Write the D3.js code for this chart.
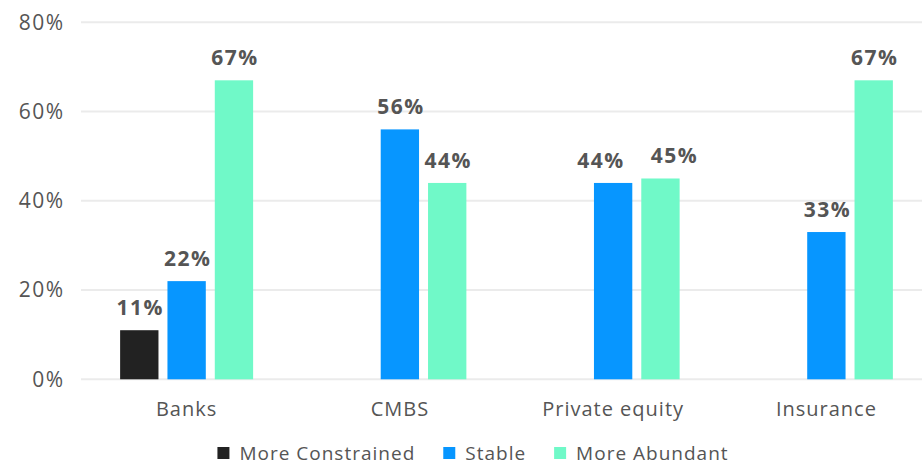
<!DOCTYPE html>
<html>
<head>
<meta charset="utf-8">
<script src="https://cdn.jsdelivr.net/npm/d3@7"></script>
<style>
  body { margin: 0; background: #fff; }
  svg { display: block; font-family: "Open Sans", "Noto Sans", sans-serif; }
</style>
</head>
<body>
<svg id="chart" width="922" height="465"></svg>
<script>
const categories = ["Banks", "CMBS", "Private equity", "Insurance"];
const seriesNames = ["More Constrained", "Stable", "More Abundant"];
const moreConstrained = [11, null, null, null];
const stable = [22, 56, 44, 33];
const moreAbundant = [67, 44, 45, 67];
const yTicks = [0, 20, 40, 60, 80];
const colors = ["#222222", "#0796ff", "#70f9c8"];

const values = [moreConstrained, stable, moreAbundant];

const svg = d3.select("#chart"),
  margin = {top: 22, right: 0, bottom: 86, left: 81},
  height = +svg.attr("height") - margin.top - margin.bottom;

const x0 = d3.scaleBand()
  .domain(categories)
  .range([80, 933]);

const x1 = d3.scaleBand()
  .domain(seriesNames)
  .range([-66.5, 66.5])
  .paddingInner(0.19);

const y = d3.scaleLinear()
  .domain([0, 80])
  .range([margin.top + height + 0.3, margin.top + 0.3]);

// gridlines
svg.append("g")
  .selectAll("line")
  .data(yTicks)
  .join("line")
  .attr("x1", margin.left)
  .attr("x2", 922)
  .attr("y1", d => y(d))
  .attr("y2", d => y(d))
  .attr("stroke", "#ebebeb")
  .attr("stroke-width", 2);

// y axis
const yAxis = svg.append("g")
  .attr("transform", "translate(64.5,0)")
  .call(d3.axisLeft(y).tickValues(yTicks).tickFormat(d => d + "%").tickSize(0).tickPadding(0));
yAxis.select(".domain").remove();
yAxis.selectAll("text")
  .attr("fill", "#555")
  .attr("font-size", 21)
  .attr("letter-spacing", 1.5)
  .attr("font-family", "'Open Sans', sans-serif");

// x axis labels
const xAxis = svg.append("g")
  .attr("transform", "translate(0,416)")
  .call(d3.axisBottom(x0).tickSize(0).tickPadding(0));
xAxis.select(".domain").remove();
xAxis.selectAll("text")
  .attr("dy", 0)
  .attr("y", 0)
  .attr("fill", "#555")
  .attr("font-size", 20)
  .attr("letter-spacing", 1)
  .attr("font-family", "'Open Sans', sans-serif");

const rows = [];
categories.forEach((c, i) => {
  seriesNames.forEach((s, j) => {
    const v = values[j][i];
    if (v != null) rows.push({cat: c, series: s, value: v, color: colors[j]});
  });
});

const bars = svg.append("g");
bars.selectAll("rect")
  .data(rows)
  .join("rect")
  .attr("x", d => x0(d.cat) + x0.bandwidth() / 2 + x1(d.series))
  .attr("y", d => y(d.value))
  .attr("width", x1.bandwidth())
  .attr("height", d => y(0) - y(d.value))
  .attr("fill", d => d.color);

const labels = bars.selectAll("text")
  .data(rows)
  .join("text")
  .attr("x", d => x0(d.cat) + x0.bandwidth() / 2 + x1(d.series) + x1.bandwidth() / 2 + 1)
  .attr("y", d => y(d.value) - 15)
  .attr("text-anchor", "middle")
  .attr("fill", "#555")
  .attr("font-size", 21)
  .attr("letter-spacing", 1.5)
  .attr("font-weight", "bold")
  .text(d => d.value + "%");

// push apart neighbouring labels that would collide
const nodes = labels.nodes();
for (let i = 1; i < nodes.length; i++) {
  const a = nodes[i - 1], b = nodes[i];
  const da = d3.select(a).datum(), db = d3.select(b).datum();
  if (da.cat !== db.cat) continue;
  const ba = a.getBBox(), bb = b.getBBox();
  const vOverlap = ba.y < bb.y + bb.height && bb.y < ba.y + ba.height;
  const minDist = (ba.width + bb.width) / 2 + 26;
  const ax = +a.getAttribute("x"), bx = +b.getAttribute("x");
  if (vOverlap && bx - ax < minDist) {
    const shift = (minDist - (bx - ax)) / 2;
    a.setAttribute("x", ax - shift);
    b.setAttribute("x", bx + shift);
  }
}

// legend
const legend = svg.append("g").attr("transform", "translate(0,452)");
const items = legend.selectAll("g")
  .data(seriesNames)
  .join("g");
items.append("rect")
  .attr("width", 12)
  .attr("height", 12)
  .attr("y", -5)
  .attr("fill", (d, i) => colors[i]);
items.append("text")
  .attr("x", 22)
  .attr("dy", "0.4em")
  .attr("fill", "#555")
  .attr("font-size", 19)
  .attr("letter-spacing", 1)
  .text(d => d);

let pos = 0;
const offsets = [];
items.each(function() {
  offsets.push(pos);
  pos += this.getBBox().width + 28;
});
const totalW = pos - 28;
const startX = 473 - totalW / 2;
items.attr("transform", (d, i) => "translate(" + (startX + offsets[i]) + ",0)");
</script>
</body>
</html>
